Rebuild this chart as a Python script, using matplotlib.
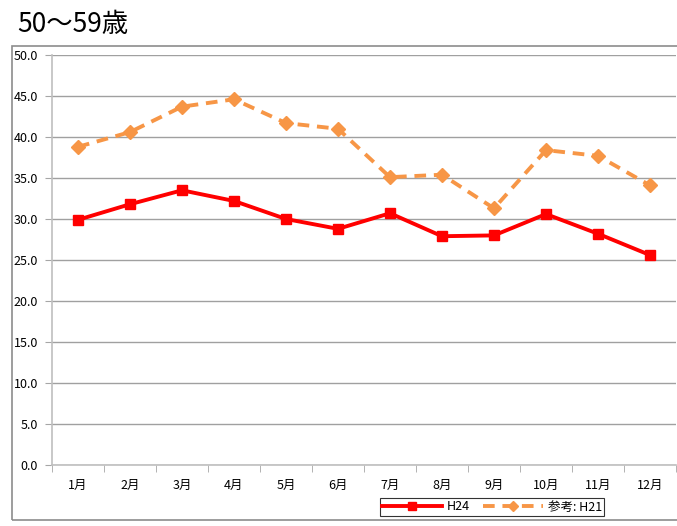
import matplotlib
matplotlib.use("Agg")
import matplotlib.pyplot as plt
from matplotlib.patches import Rectangle
import numpy as np

plt.rcParams['font.family'] = ['Noto Sans CJK JP', 'DejaVu Sans']

months = ["1月", "2月", "3月", "4月", "5月", "6月", "7月", "8月", "9月", "10月", "11月", "12月"]
h24 = [29.9, 31.8, 33.5, 32.2, 30.0, 28.8, 30.7, 27.9, 28.0, 30.6, 28.2, 25.6]
h21 = [38.8, 40.6, 43.7, 44.6, 41.7, 41.0, 35.1, 35.4, 31.3, 38.4, 37.7, 34.1]
yticks = [0, 5, 10, 15, 20, 25, 30, 35, 40, 45, 50]
title = "50〜59歳"

W, H = 677, 526
fig = plt.figure(figsize=(W / 100, H / 100), dpi=100)

# outer chart border
fig.patches.append(Rectangle((12 / W, 1 - 520 / H), (700 - 12) / W, (520 - 46) / H,
                             transform=fig.transFigure, fill=False,
                             edgecolor="#8c8c8c", linewidth=1.2))

fig.text(17 / W, 1 - 25 / H, title, fontsize=19, va="center", ha="left", color="black")

ax = fig.add_axes([52 / W, 1 - 465 / H, 624 / W, 410 / H])
x = np.arange(len(months))

ax.plot(x, h24, color="#FF0000", linewidth=2.8, marker="s", markersize=7.5,
        label="H24", zorder=4)
ax.plot(x, h21, color="#F79646", linewidth=2.8, linestyle=(0, (3, 2)), marker="D",
        markersize=7, label="参考: H21", zorder=3)

ax.set_xlim(-0.5, len(months) - 0.5)
ax.set_ylim(0, 50)
ax.set_yticks(yticks)
ax.set_yticklabels([f"{v:.1f}" for v in yticks], fontsize=9)
ax.set_xticks(x)
ax.set_xticklabels(months, fontsize=9)
ax.set_xticks(np.arange(-0.5, len(months)), minor=True)
ax.tick_params(axis="x", which="major", length=0, pad=10)
ax.tick_params(axis="x", which="minor", length=5, color="#a6a6a6")
ax.tick_params(axis="y", length=5, color="#a6a6a6", pad=5)

ax.grid(axis="y", color="#a0a0a0", linewidth=1)
ax.set_axisbelow(True)
for s in ["top", "right"]:
    ax.spines[s].set_visible(False)
ax.spines["left"].set_color("#bfbfbf")
ax.spines["bottom"].set_color("#bfbfbf")
ax.spines["left"].set_linewidth(1.2)
ax.spines["bottom"].set_linewidth(1.2)

leg = fig.legend(loc="center", bbox_to_anchor=(492 / W, 1 - 507 / H), ncol=2,
                 fontsize=9, frameon=True, fancybox=False, edgecolor="black",
                 handlelength=4.8, columnspacing=1.0, borderpad=0.2, handletextpad=0.4,
                 markerscale=0.7)
leg.get_frame().set_linewidth(0.8)

fig.savefig("out.png", dpi=100)
